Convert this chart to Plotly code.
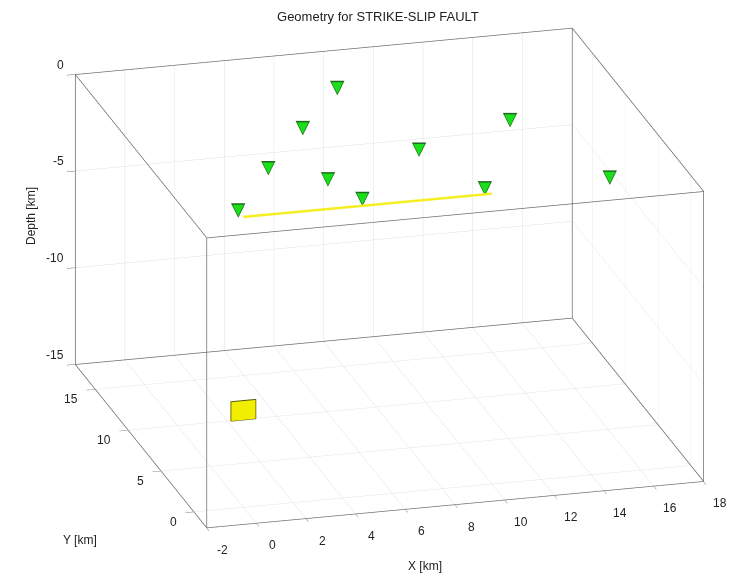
import plotly.graph_objects as go

# Station coordinates (km) at the free surface
sta_x = [0.0, 5.0, 9.9, 14.9, 4.3, 8.6, 12.9, 2.4, 4.9, 7.4]
sta_y = [0.8, 0.8, 0.7, 0.6, 3.4, 5.8, 8.2, 5.3, 9.5, 13.7]
sta_z = [0.0] * len(sta_x)

# Surface trace of the strike-slip fault
fault_x = [0.0, 10.0]
fault_y = [0.0, 0.0]
fault_z = [0.0, 0.0]

# Source patch: centre (km) and edge length (km), lying in the x-z plane
patch_center = [0.0, 0.0, -10.0]
patch_size = 1.0

# Axis limits and ticks
x_range = [-2, 18]
y_range = [-2, 18]
z_range = [-15, 0]
x_ticks = [-2, 0, 2, 4, 6, 8, 10, 12, 14, 16, 18]
y_ticks = [0, 5, 10, 15]
z_ticks = [-15, -10, -5, 0]

FONT = "Liberation Sans, Arial, sans-serif"
TXT = "#222222"
EDGE = "#6e6e6e"
PAD = 0.02  # keeps the box edges from being clipped at the scene bounds

cx, cy, cz = patch_center
h = patch_size / 2
px = [cx - h, cx + h, cx + h, cx - h]
py = [cy, cy, cy, cy]
pz = [cz - h, cz - h, cz + h, cz + h]

x0, x1 = x_range
y0, y1 = y_range
z0, z1 = z_range

# Twelve edges of the axes box, separated by None gaps
bx, by, bz = [], [], []
for zz in (z0, z1):
    bx += [x0, x1, x1, x0, x0, None]
    by += [y0, y0, y1, y1, y0, None]
    bz += [zz, zz, zz, zz, zz, None]
for xx, yy in ((x0, y0), (x1, y0), (x1, y1), (x0, y1)):
    bx += [xx, xx, None]
    by += [yy, yy, None]
    bz += [z0, z1, None]

fig = go.Figure()

fig.add_trace(go.Scatter3d(
    x=bx, y=by, z=bz, mode="lines", line=dict(color=EDGE, width=1.5),
    hoverinfo="skip", showlegend=False, connectgaps=False))

fig.add_trace(go.Mesh3d(
    x=px, y=py, z=pz, i=[0, 0], j=[1, 2], k=[2, 3],
    color="#f2ee00", opacity=1.0, flatshading=True,
    lighting=dict(ambient=1, diffuse=0, specular=0, roughness=1, fresnel=0),
    hoverinfo="skip", showscale=False))
fig.add_trace(go.Scatter3d(
    x=px + [px[0]], y=py + [py[0]], z=pz + [pz[0]], mode="lines",
    line=dict(color="#5a5a10", width=2), hoverinfo="skip", showlegend=False))

fig.add_trace(go.Scatter3d(
    x=fault_x, y=fault_y, z=fault_z, mode="lines",
    line=dict(color="#f4ee22", width=5), showlegend=False))

# Stations drawn as downward triangles with a dark outline
fig.add_trace(go.Scatter3d(
    x=sta_x, y=sta_y, z=sta_z, mode="text", text=["\u25BC"] * len(sta_x),
    textfont=dict(family="DejaVu Sans", size=19, color="#1d6b1d"),
    textposition="middle center", showlegend=False, hoverinfo="skip"))
fig.add_trace(go.Scatter3d(
    x=sta_x, y=sta_y, z=sta_z, mode="text", text=["\u25BC"] * len(sta_x),
    textfont=dict(family="DejaVu Sans", size=15, color="#19e019"),
    textposition="middle center", showlegend=False, hoverinfo="skip"))

axis_common = dict(
    showbackground=False, gridcolor="#e0e0e0", gridwidth=1,
    showline=False, ticks="outside", ticklen=8, tickcolor=EDGE, tickwidth=1,
    showticklabels=False, zeroline=False, showspikes=False, title=dict(text=""),
)

tick_font = dict(family=FONT, size=12, color=TXT)
scene_ann = []
for v in x_ticks:
    scene_ann.append(dict(x=v, y=y0, z=z0, text=str(v), showarrow=False,
                          xanchor="center", yanchor="middle", xshift=16, yshift=-22,
                          font=tick_font))
for v in y_ticks:
    scene_ann.append(dict(x=x0, y=v, z=z0, text=str(v), showarrow=False,
                          xanchor="right", yanchor="middle", xshift=-15, yshift=-10,
                          font=tick_font))
for v in z_ticks:
    scene_ann.append(dict(x=x0, y=y1, z=v, text=str(v), showarrow=False,
                          xanchor="right", yanchor="middle", xshift=-10, yshift=10,
                          font=tick_font))

S = 1.857  # overall zoom of the orthographic scene
fig.update_layout(
    width=731, height=576,
    margin=dict(l=0, r=0, t=0, b=0),
    paper_bgcolor="white",
    showlegend=False,
    title=dict(text="Geometry for STRIKE-SLIP FAULT", x=0.517, y=0.972,
               xanchor="center", yanchor="middle",
               font=dict(family=FONT, size=13, color=TXT)),
    scene=dict(
        domain=dict(x=[0.066, 1.0], y=[0.0347, 1.0]),
        xaxis=dict(range=[x0 - PAD, x1 + PAD], tickvals=x_ticks, **axis_common),
        yaxis=dict(range=[y0 - PAD, y1 + PAD], tickvals=y_ticks, **axis_common),
        zaxis=dict(range=[z0 - PAD, z1 + PAD], tickvals=z_ticks, **axis_common),
        aspectmode="manual",
        aspectratio=dict(x=1.0 * S, y=0.965 * S, z=0.599 * S),
        camera=dict(
            projection=dict(type="orthographic"),
            up=dict(x=0, y=0, z=1),
            center=dict(x=0, y=0, z=0),
            eye=dict(x=-0.2486 * 2, y=-0.9068 * 2, z=0.3407 * 2),
        ),
        bgcolor="white",
        annotations=scene_ann,
    ),
)
fig.add_annotation(text="X [km]", x=425 / 731, y=1 - 566 / 576, xref="paper", yref="paper",
                   xanchor="center", yanchor="middle", showarrow=False,
                   font=dict(family=FONT, size=12, color=TXT))
fig.add_annotation(text="Y [km]", x=80 / 731, y=1 - 540 / 576, xref="paper", yref="paper",
                   xanchor="center", yanchor="middle", showarrow=False,
                   font=dict(family=FONT, size=12, color=TXT))
fig.add_annotation(text="Depth [km]", x=31 / 731, y=1 - 216 / 576, xref="paper", yref="paper",
                   xanchor="center", yanchor="middle", showarrow=False, textangle=-90,
                   font=dict(family=FONT, size=12, color=TXT))

fig.write_html("out.html")
